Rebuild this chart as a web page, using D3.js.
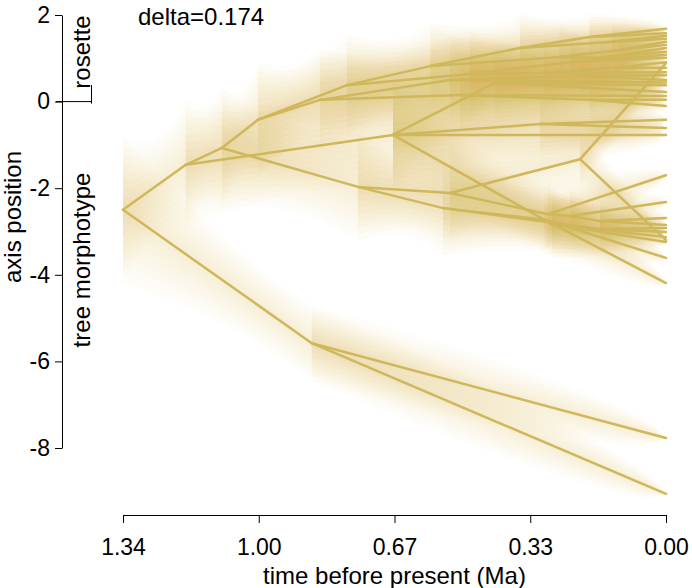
<!DOCTYPE html>
<html><head><meta charset="utf-8">
<script src="https://cdn.jsdelivr.net/npm/d3@7"></script>
<style>
body{margin:0;background:#fff}
svg{display:block}
text{font-family:"Liberation Sans",Arial,Helvetica,sans-serif}
</style>
</head><body>
<svg id="chart" width="692" height="588"></svg>
<script>
// internal nodes: [id, parent, time before present (Ma), axis position, uncertainty (sd)]
const internalNodes = [
  ["R", null, 1.340, -2.50, 0.70],
  ["A", "R", 1.185, -1.46, 0.60],
  ["L", "R", 0.874, -5.58, 0.36],
  ["B", "A", 1.096, -1.07, 0.58],
  ["C", "A", 0.674, -0.77, 0.50],
  ["D", "B", 1.007, -0.42, 0.55],
  ["E", "B", 0.760, -1.97, 0.52],
  ["D2", "D", 0.787, 0.38, 0.48],
  ["D3", "D", 0.854, 0.04, 0.48],
  ["D6", "D2", 0.582, 0.82, 0.42],
  ["D7", "D2", 0.484, 0.64, 0.42],
  ["D8", "D6", 0.360, 1.24, 0.32],
  ["D9", "D6", 0.262, 1.03, 0.32],
  ["D10", "D8", 0.188, 1.49, 0.22],
  ["D11", "D8", 0.133, 1.38, 0.18],
  ["D12", "D9", 0.114, 1.19, 0.18],
  ["D13", "D9", 0.163, 1.01, 0.22],
  ["D14", "D7", 0.237, 0.91, 0.27],
  ["D15", "D7", 0.299, 0.66, 0.32],
  ["D16", "D15", 0.126, 0.78, 0.18],
  ["D4", "D3", 0.508, 0.15, 0.42],
  ["D5", "D3", 0.533, 0.50, 0.42],
  ["D17", "D4", 0.188, 0.04, 0.22],
  ["D18", "D5", 0.212, 0.59, 0.24],
  ["C2", "C", 0.311, -0.52, 0.30],
  ["C3", "C", 0.422, 0.43, 0.38],
  ["G", "E", 0.533, -2.11, 0.45],
  ["E2", "E", 0.550, -2.46, 0.45],
  ["H", "G", 0.212, -1.33, 0.28],
  ["G2", "G", 0.291, -2.60, 0.32],
  ["G5", "G2", 0.237, -2.64, 0.26],
  ["G4", "G5", 0.163, -2.76, 0.20],
  ["E3", "E2", 0.299, -2.73, 0.32],
  ["E5", "E2", 0.163, -2.94, 0.22],
  ["F", "C", 0.281, -2.83, 0.32]
];
// tips (present day, time 0): [parent, axis position]
const tipNodes = [
  ["D10", 1.68], ["D10", 1.58],
  ["D11", 1.52], ["D11", 1.45],
  ["D12", 1.38], ["D12", 1.31],
  ["D13", 1.24], ["D13", 1.15],
  ["D14", 1.08], ["D14", 1.01],
  ["D16", 0.91], ["D16", 0.78],
  ["D15", 0.68],
  ["H", 0.89],
  ["D18", 0.61], ["D18", 0.50],
  ["D5", 0.44],
  ["C3", 0.38], ["C3", 0.22],
  ["D4", 0.13],
  ["D17", 0.04], ["D17", -0.10],
  ["C2", -0.42], ["C2", -0.61],
  ["C", -0.77],
  ["G2", -1.70],
  ["G5", -2.32],
  ["G4", -2.69], ["G4", -2.85],
  ["E5", -2.92], ["E5", -3.01],
  ["F", -3.13], ["F", -3.24],
  ["H", -3.20],
  ["E3", -3.61], ["E3", -4.19],
  ["L", -7.77], ["L", -9.06]
];
const xTicks = [1.34, 1.005, 0.67, 0.335, 0];
const xTickLabels = ["1.34", "1.00", "0.67", "0.33", "0.00"];
const yTicks = [2, 0, -2, -4, -6, -8];
const deltaLabel = "delta=0.174";
const bridgeRate = 0.3;

const svg = d3.select("#chart");
const x = d3.scaleLinear().domain([1.34, 0]).range([123, 666]);
const y = d3.scaleLinear().domain([2, -8]).range([15, 448]);

const nodes = new Map();
internalNodes.forEach(([id, p, t, v, sd]) => nodes.set(id, {id, p, t, v, sd}));
const edges = [];
internalNodes.forEach(([id, p]) => { if (p) edges.push([nodes.get(p), nodes.get(id)]); });
tipNodes.forEach(([p, v]) => edges.push([nodes.get(p), {t: 0, v: v, sd: 0}]));

const lineCol = "#cfb75c";
const cloudCol = "#cbb94c";
const zLevels = [0.3, 0.6, 0.9, 1.2, 1.5, 1.8, 2.1, 2.4];

const cloud = svg.append("g");
edges.forEach(([a, b]) => {
  const n = 30;
  const prof = d3.range(n + 1).map(i => {
    const s = i / n;
    const t = a.t + (b.t - a.t) * s;
    const m = a.v + (b.v - a.v) * s;
    const sd = Math.sqrt(((1 - s) * a.sd) ** 2 + (s * b.sd) ** 2 + bridgeRate * (a.t - b.t) * s * (1 - s));
    return {t, m, sd};
  });
  zLevels.forEach(z => {
    const area = d3.area().x(d => x(d.t)).y0(d => y(d.m - z * d.sd)).y1(d => y(d.m + z * d.sd));
    cloud.append("path").attr("d", area(prof)).attr("fill", cloudCol).attr("fill-opacity", 0.026);
  });
});

const lg = svg.append("g");
const ln = d3.line().x(d => x(d.t)).y(d => y(d.v));
edges.forEach(([a, b]) => {
  lg.append("path").attr("d", ln([a, b])).attr("fill", "none")
    .attr("stroke", lineCol).attr("stroke-width", 2.5).attr("stroke-linecap", "round");
});

// axes
const fs = "23px";
const yAxis = svg.append("g").attr("transform", "translate(62,0)")
  .call(d3.axisLeft(y).tickValues(yTicks).tickSize(7).tickSizeOuter(0).tickPadding(5).tickFormat(d => String(d)));
const xAxis = svg.append("g").attr("transform", "translate(0,515)")
  .call(d3.axisBottom(x).tickValues(xTicks).tickSize(8).tickSizeOuter(0).tickPadding(16).tickFormat((d, i) => xTickLabels[i]));
[yAxis, xAxis].forEach(g => {
  g.attr("font-size", fs).attr("font-family", '"Liberation Sans",Arial,sans-serif');
  g.selectAll("text").attr("fill", "#000");
  g.selectAll("line,path").attr("stroke", "#000");
});

// zero line bracket separating rosette / tree morphotype
svg.append("line").attr("x1", 56).attr("x2", 92).attr("y1", y(0)).attr("y2", y(0)).attr("stroke", "#000");
svg.append("line").attr("x1", 91.5).attr("x2", 91.5).attr("y1", 85).attr("y2", y(0) + 2).attr("stroke", "#000");

svg.append("text").attr("x", 138).attr("y", 25).attr("font-size", "24px").text(deltaLabel);
svg.append("text").attr("transform", `translate(${(x(1.34) + x(0)) / 2},584)`).attr("text-anchor", "middle")
  .attr("font-size", "24px").text("time before present (Ma)");
svg.append("text").attr("transform", "translate(21,217) rotate(-90)").attr("text-anchor", "middle")
  .attr("font-size", "24px").text("axis position");
svg.append("text").attr("transform", "translate(90,260) rotate(-90)").attr("text-anchor", "middle")
  .attr("font-size", "24px").text("tree morphotype");
svg.append("text").attr("transform", "translate(90,52) rotate(-90)").attr("text-anchor", "middle")
  .attr("font-size", "24px").text("rosette");
</script>
</body></html>
